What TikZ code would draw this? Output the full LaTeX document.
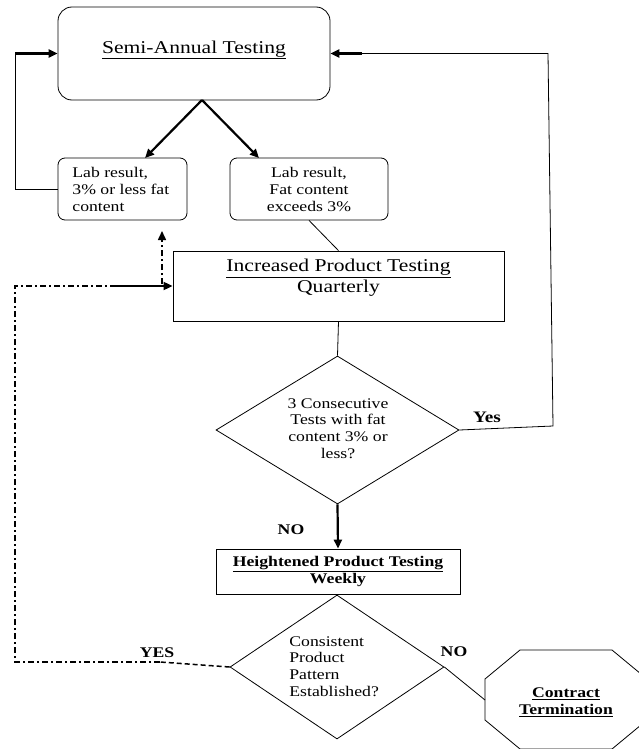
\documentclass[tikz,border=0pt]{standalone}
\usepackage{fontspec}
\setmainfont{Liberation Serif}
\usetikzlibrary{arrows.meta,shapes.geometric}
\newcommand{\vtxt}[2]{\scalebox{1.2}[1]{\begin{tabular}{@{}#1@{}}#2\end{tabular}}}
\newcommand{\hs}[1]{\scalebox{1.2}[1]{#1}}
\begin{document}
\begin{tikzpicture}[x=1pt,y=-1pt,
  line width=0.8pt,
  boxr/.style={draw, inner sep=0pt},
  dia/.style={draw, diamond, inner sep=0pt},
  txt/.style={inner sep=0pt, font=\fontsize{14.75}{16.7}\selectfont},
  bigtxt/.style={inner sep=0pt, font=\fontsize{18}{21}\selectfont},
  lbl/.style={inner sep=0pt, font=\fontsize{14.75}{16.7}\selectfont\bfseries},
  tip/.style={-{Triangle[length=9pt,width=8pt]}},
  thickarr/.style={tip, line width=2.2pt},
  dashdot/.style={line width=1.5pt, dash pattern=on 6pt off 3pt on 2pt off 3pt},
  dashedl/.style={line width=1.5pt, dash pattern=on 5pt off 3pt}
]
\useasboundingbox (0,0) rectangle (639,749);

% boxes
\node[boxr, rounded corners=14pt, minimum width=272pt, minimum height=93pt] (semi) at (194,53.5) {};
\node[bigtxt] (semit) at (194,49) {\vtxt{c}{\underline{Semi-Annual Testing}}};

\node[boxr, rounded corners=7pt, minimum width=129pt, minimum height=62pt] (lab1) at (122.5,189) {};
\node[txt, anchor=west] (lab1t) at (72,191) {\vtxt{l}{Lab result,\\3\% or less fat\\content}};

\node[boxr, rounded corners=7pt, minimum width=158pt, minimum height=62pt] (lab2) at (309,189) {};
\node[txt] (lab2t) at (309,191) {\vtxt{c}{Lab result,\\Fat content\\exceeds 3\%}};

\node[boxr, minimum width=331pt, minimum height=70pt] (inc) at (338.5,286) {};
\node[bigtxt] (inct) at (338.5,278) {\vtxt{c}{\underline{Increased Product Testing}\\Quarterly}};

\node[dia, minimum width=243pt, minimum height=148pt] (d1) at (337.5,430) {};
\node[txt] (d1t) at (338,430) {\vtxt{c}{3 Consecutive\\Tests with fat\\content 3\% or\\less?}};

\node[boxr, minimum width=244pt, minimum height=45pt] (hb) at (338,571.5) {};
\node[txt, font=\fontsize{14.75}{16.5}\selectfont\bfseries] (hbt) at (338,572) {\vtxt{c}{\underline{Heightened Product Testing}\\Weekly}};

\node[dia, minimum width=214pt, minimum height=144pt] (d2) at (337,667) {};
\node[txt, anchor=west] (d2t) at (289,668) {\vtxt{l}{Consistent\\Product\\Pattern\\Established?}};

% octagon
\draw (485,679) -- (520,650) -- (612,650) -- (647,679) -- (647,720) -- (612,749) -- (520,749) -- (485,720) -- cycle;
\coordinate (octw) at (485,700);
\node[txt, font=\fontsize{14.75}{17}\selectfont\bfseries] (term) at (566,703) {\vtxt{c}{\underline{Contract}\\\underline{Termination}}};

% labels
\node[lbl, font=\fontsize{16}{17}\selectfont\bfseries] (yes1) at (487,417) {\hs{Yes}};
\node[lbl] (no1) at (291,530) {\hs{NO}};
\node[lbl] (yes2) at (157,653) {\hs{YES}};
\node[lbl] (no2) at (454,652) {\hs{NO}};

% connectors
\coordinate (split) at (202,100);
\coordinate (t1) at (145,158);
\coordinate (t2) at (259,158);
\draw[thickarr] (split) -- (t1);
\draw[thickarr] (split) -- (t2);

\coordinate (lcor) at (15,53.5);
\draw (lab1.west) -- (15,189) -- (lcor);
\draw[thickarr] (lcor) -- (semi.west);

\coordinate (r1) at (553,426);
\coordinate (r2) at (548,53.5);
\coordinate (r3) at (362,53.5);
\draw (d1.east) -- (r1) -- (r2) -- (r3);
\draw[thickarr] (r3) -- (semi.east);

\draw (lab2.south) -- (inc.north);
\draw (inc.south) -- (d1.north);
\draw[thickarr] (d1.south) -- (hb.north);
\draw (d2.east) -- (octw);

% dash-dot return
\coordinate (b1) at (160,662);
\coordinate (b2) at (15,662);
\coordinate (b3) at (15,286);
\coordinate (b4) at (113,286);
\draw[dashedl] (d2.west) -- (b1);
\draw[dashdot] (b1) -- (b2) -- (b3) -- (b4);
\draw[thickarr, line width=1.8pt] (b4) -- (inc.west);
\coordinate (u1) at (162,284);
\coordinate (u2) at (162,231);
\draw[dashdot, tip] (u1) -- (u2);
\end{tikzpicture}
\end{document}
